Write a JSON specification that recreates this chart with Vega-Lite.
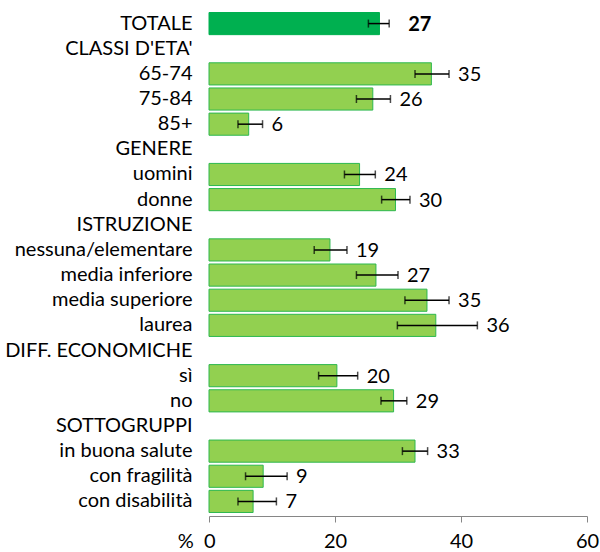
{
  "$schema": "https://vega.github.io/schema/vega-lite/v6.json",
  "autosize": {"type": "none"},
  "padding": {"left": 209, "top": 11, "right": 13, "bottom": 38},
  "width": 378,
  "height": 503,
  "config": {
    "view": {"stroke": null},
    "font": "Lato",
    "text": {"font": "Lato"}
  },
  "data": {
    "values": [
      {"cat": "TOTALE", "v": 27.06, "lo": 25.3, "hi": 28.6, "lab": "27", "tot": true},
      {"cat": "CLASSI D'ETA'"},
      {"cat": "65-74", "v": 35.3, "lo": 32.7, "hi": 38.1, "lab": "35", "tot": false},
      {"cat": "75-84", "v": 26.0, "lo": 23.4, "hi": 28.8, "lab": "26", "tot": false},
      {"cat": "85+", "v": 6.3, "lo": 4.6, "hi": 8.5, "lab": "6", "tot": false},
      {"cat": "GENERE"},
      {"cat": "uomini", "v": 23.9, "lo": 21.5, "hi": 26.4, "lab": "24", "tot": false},
      {"cat": "donne", "v": 29.6, "lo": 27.4, "hi": 31.9, "lab": "30", "tot": false},
      {"cat": "ISTRUZIONE"},
      {"cat": "nessuna/elementare", "v": 19.2, "lo": 16.7, "hi": 21.9, "lab": "19", "tot": false},
      {"cat": "media inferiore", "v": 26.5, "lo": 23.4, "hi": 30.0, "lab": "27", "tot": false},
      {"cat": "media superiore", "v": 34.6, "lo": 31.1, "hi": 38.1, "lab": "35", "tot": false},
      {"cat": "laurea", "v": 36.0, "lo": 29.9, "hi": 42.6, "lab": "36", "tot": false},
      {"cat": "DIFF. ECONOMICHE"},
      {"cat": "sì", "v": 20.3, "lo": 17.4, "hi": 23.6, "lab": "20", "tot": false},
      {"cat": "no", "v": 29.3, "lo": 27.3, "hi": 31.4, "lab": "29", "tot": false},
      {"cat": "SOTTOGRUPPI"},
      {"cat": "in buona salute", "v": 32.7, "lo": 30.7, "hi": 34.7, "lab": "33", "tot": false},
      {"cat": "con fragilità", "v": 8.6, "lo": 5.8, "hi": 12.4, "lab": "9", "tot": false},
      {"cat": "con disabilità", "v": 7.0, "lo": 4.6, "hi": 10.7, "lab": "7", "tot": false}
    ]
  },
  "encoding": {
    "y": {
      "field": "cat",
      "type": "nominal",
      "sort": null,
      "scale": {
        "domain": ["TOTALE", "CLASSI D'ETA'", "65-74", "75-84", "85+", "GENERE", "uomini", "donne", "ISTRUZIONE", "nessuna/elementare", "media inferiore", "media superiore", "laurea", "DIFF. ECONOMICHE", "sì", "no", "SOTTOGRUPPI", "in buona salute", "con fragilità", "con disabilità"],
        "paddingInner": 0.12,
        "paddingOuter": 0.06
      },
      "axis": {
        "title": null,
        "domain": false,
        "ticks": false,
        "tickSize": 0,
        "labelPadding": 17,
        "labelFont": "Lato",
        "labelFontSize": 20,
        "labelColor": "#000000",
        "labelLimit": 0
      }
    }
  },
  "layer": [
    {
      "transform": [{"filter": "isValid(datum.v)"}],
      "mark": {"type": "bar", "strokeWidth": 1},
      "encoding": {
        "x": {
          "field": "v",
          "type": "quantitative",
          "scale": {"domain": [0, 60], "nice": false, "zero": true},
          "axis": {
            "title": null,
            "grid": false,
            "values": [0, 20, 40, 60],
            "offset": 2,
            "domainColor": "#868686",
            "tickColor": "#868686",
            "tickSize": 6,
            "labelPadding": 9,
            "labelFont": "Lato",
            "labelFontSize": 20,
            "labelColor": "#000000",
            "labelExpr": "datum.value == 0 ? '%\u00a0\u00a00' : datum.label",
            "labelAlign": {"condition": {"test": "datum.value == 0", "value": "right"}, "value": "center"},
            "labelOffset": {"condition": {"test": "datum.value == 0", "value": 6}, "value": 0}
          }
        },
        "fill": {
          "condition": {"test": "datum.tot", "value": "#00B050"},
          "value": "#92D050"
        },
        "stroke": {
          "condition": {"test": "datum.tot", "value": "#00B050"},
          "value": "#2DB84F"
        }
      }
    },
    {
      "transform": [{"filter": "isValid(datum.v)"}],
      "mark": {"type": "rule", "color": "#000000", "strokeWidth": 1.5},
      "encoding": {
        "x": {"field": "lo", "type": "quantitative"},
        "x2": {"field": "hi"}
      }
    },
    {
      "transform": [{"filter": "isValid(datum.v)"}],
      "mark": {"type": "tick", "color": "#000000", "thickness": 1.5, "size": 8},
      "encoding": {
        "x": {"field": "lo", "type": "quantitative"}
      }
    },
    {
      "transform": [{"filter": "isValid(datum.v)"}],
      "mark": {"type": "tick", "color": "#000000", "thickness": 1.5, "size": 8},
      "encoding": {
        "x": {"field": "hi", "type": "quantitative"}
      }
    },
    {
      "transform": [{"filter": "isValid(datum.v) && !datum.tot"}],
      "mark": {"type": "text", "align": "left", "baseline": "middle", "dx": 9, "dy": 1, "fontSize": 20, "color": "#000000"},
      "encoding": {
        "x": {"field": "hi", "type": "quantitative"},
        "text": {"field": "lab"}
      }
    },
    {
      "transform": [{"filter": "datum.tot === true"}],
      "mark": {"type": "text", "align": "left", "baseline": "middle", "dx": 19, "dy": 1, "fontSize": 20, "fontWeight": "bold", "color": "#000000"},
      "encoding": {
        "x": {"field": "hi", "type": "quantitative"},
        "text": {"field": "lab"}
      }
    }
  ]
}
